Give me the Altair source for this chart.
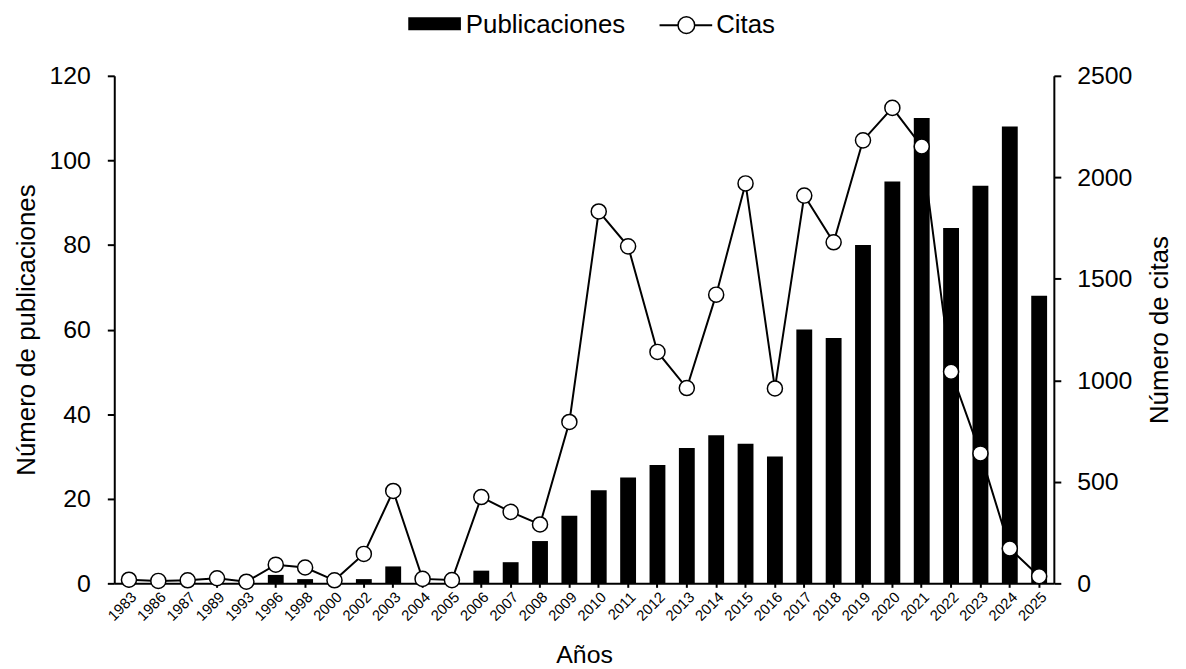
import altair as alt
import pandas as pd

years = ["1983", "1986", "1987", "1989", "1993", "1996", "1998", "2000", "2002", "2003",
         "2004", "2005", "2006", "2007", "2008", "2009", "2010", "2011", "2012", "2013",
         "2014", "2015", "2016", "2017", "2018", "2019", "2020", "2021", "2022", "2023",
         "2024", "2025"]
publicaciones = [0, 0, 0, 0, 0, 2, 1, 0, 1, 4,
                 0, 0, 3, 5, 10, 16, 22, 25, 28, 32,
                 35, 33, 30, 60, 58, 80, 95, 110, 84, 94,
                 108, 68]
citas = [18, 12, 15, 25, 8, 92, 78, 15, 145, 455,
         22, 16, 425, 352, 290, 795, 1832, 1660, 1140, 962,
         1422, 1970, 960, 1910, 1680, 2182, 2342, 2152, 1042, 640,
         172, 35]

left_ticks = [0, 20, 40, 60, 80, 100, 120]
right_ticks = [0, 500, 1000, 1500, 2000, 2500]

df = pd.DataFrame({"Año": years, "Publicaciones": publicaciones, "Citas": citas})
one = pd.DataFrame({"k": [0]})

FONT = "Liberation Sans"

x_enc = alt.X(
    "Año:N", sort=years, title="Años",
    scale=alt.Scale(paddingInner=0.46, paddingOuter=0.23),
    axis=alt.Axis(labelAngle=-45, labelFontSize=15, tickSize=4, labelPadding=2,
                  titleFontSize=25, titlePadding=19),
)

line = alt.Chart(df).mark_line(color="black", strokeWidth=2).encode(
    x=x_enc,
    y=alt.Y("Citas:Q", scale=alt.Scale(domain=[0, 2500]),
            axis=alt.Axis(orient="right", values=right_ticks, format="d",
                          title="Número de citas",
                          titleAngle=270, titleBaseline="top", titlePadding=15,
                          labelPadding=16, tickSize=7)),
)

bars = alt.Chart(df).mark_bar(color="black").encode(
    x=x_enc,
    y=alt.Y("Publicaciones:Q", scale=alt.Scale(domain=[0, 120]),
            axis=alt.Axis(orient="left", values=left_ticks, title="Número de publicaciones",
                          titlePadding=10, labelPadding=17, tickSize=7)),
)

points = alt.Chart(df).mark_point(
    shape="circle", filled=True, fill="white", stroke="black", strokeWidth=1.5,
    size=230, opacity=1,
).encode(
    x=x_enc,
    y=alt.Y("Citas:Q", scale=alt.Scale(domain=[0, 2500]), axis=None),
)

leg_rect = alt.Chart(one).mark_rect(color="black").encode(
    x=alt.value(296), x2=alt.value(349), y=alt.value(-59), y2=alt.value(-46))
leg_t1 = alt.Chart(one).mark_text(align="left", baseline="middle", fontSize=26,
                                  font=FONT, color="black").encode(
    x=alt.value(354), y=alt.value(-51), text=alt.value("Publicaciones"))
leg_line = alt.Chart(one).mark_rule(color="black", strokeWidth=2).encode(
    x=alt.value(549), x2=alt.value(602), y=alt.value(-51))
leg_pt = alt.Chart(one).mark_point(shape="circle", filled=True, fill="white",
                                   stroke="black", strokeWidth=1.5, size=280,
                                   opacity=1).encode(
    x=alt.value(576), y=alt.value(-51))
leg_t2 = alt.Chart(one).mark_text(align="left", baseline="middle", fontSize=26,
                                  font=FONT, color="black").encode(
    x=alt.value(606), y=alt.value(-51), text=alt.value("Citas"))

chart = alt.layer(line, bars, points, leg_rect, leg_t1, leg_line, leg_pt, leg_t2).resolve_scale(
    y="independent"
).properties(
    width=946, height=511,
    padding={"left": 5, "top": 2, "right": 5, "bottom": 5},
).configure_view(stroke=None).configure_axis(
    grid=False, labelFont=FONT, titleFont=FONT, labelColor="black", titleColor="black",
    labelFontSize=25, titleFontSize=26, titleFontWeight="normal",
    domainColor="black", domainWidth=2, tickColor="black", tickWidth=2,
)

chart.save("out.html", embed_options={"renderer": "svg", "actions": False})
